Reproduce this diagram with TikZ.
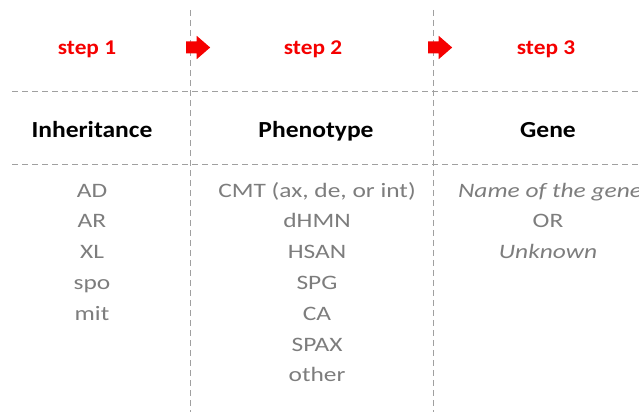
\documentclass[tikz,border=0pt]{standalone}
\usepackage{fontspec}
\setmainfont{Carlito}
\newfontfamily\itemfont[FakeStretch=1.24]{Carlito}
\newfontfamily\headfont[FakeStretch=1.11]{Carlito}
\usepackage{tikz}
\usetikzlibrary{positioning,shapes.arrows}
\definecolor{stepred}{RGB}{245,0,0}
\definecolor{itemgray}{RGB}{125,125,125}
\definecolor{linegray}{RGB}{160,160,160}
\newcommand*{\itm}[1]{\itemfont\fontsize{20.5}{24}\selectfont #1}

\begin{document}
\begin{tikzpicture}[x=1pt,y=-1pt,
  steplabel/.style={anchor=base,text=stepred,
    font=\headfont\fontsize{21}{25}\selectfont\bfseries},
  colhead/.style={anchor=base,font=\headfont\fontsize{23}{27}\selectfont\bfseries},
  item/.style={anchor=base,text=itemgray,font=\itm{},inner sep=0pt},
  gridline/.style={linegray,dash pattern=on 6pt off 4pt,line width=1pt},
  steparrow/.style={single arrow,fill=stepred,draw=none,inner sep=0pt,
    text height=5.8pt,text depth=5.8pt,minimum height=24pt,
    single arrow head extend=5.7pt,single arrow tip angle=82}]
\useasboundingbox (0,0) rectangle (639,412);
\clip (0,0) rectangle (639,412);
% Column borders and row borders
\coordinate (v1top) at (190,10);
\coordinate (v1bot) at (190,412);
\coordinate (v2top) at (433,10);
\coordinate (v2bot) at (433,412);
\coordinate (h1l) at (12,91);
\coordinate (h1r) at (639,91);
\coordinate (h2l) at (12,164);
\coordinate (h2r) at (639,164);
\draw [gridline] (v1top) -- (v1bot);
\draw [gridline] (v2top) -- (v2bot);
\draw [gridline] (h1l) -- (h1r);
\draw [gridline] (h2l) -- (h2r);
% Steps with the red block arrows between them
\node [steplabel] (step1) at (87,55) {step 1};
\node [steplabel] (step2) at (313,55) {step 2};
\node [steplabel] (step3) at (546,55) {step 3};
\node [steparrow] (arr1) at (194.7,47.5) {};
\node [steparrow] (arr2) at (436.7,47.5) {};
% Column heads
\node [colhead] (inh) at (92,137) {Inheritance};
\node [colhead] (phen) at (316,137) {Phenotype};
\node [colhead] (gene) at (548,137) {Gene};
% Inheritance column
\node [item] (ad) at (92,197) {AD};
\node [item] (ar) at (92,227.8) {AR};
\node [item] (xl) at (92,258.6) {XL};
\node [item] (spo) at (92,289.4) {spo};
\node [item] (mit) at (92,320.2) {mit};
% Phenotype column
\node [item] (cmt) at (317,197) {CMT (ax, de, or int)};
\node [item] (dhmn) at (317,227.8) {dHMN};
\node [item] (hsan) at (317,258.6) {HSAN};
\node [item] (spg) at (317,289.4) {SPG};
\node [item] (ca) at (317,320.2) {CA};
\node [item] (spax) at (317,351) {SPAX};
\node [item] (other) at (317,381.8) {other};
% Gene column
\node [item,font=\itm{}\itshape] (gname) at (550,197) {Name of the gene};
\node [item] (or) at (548,227.8) {OR};
\node [item,font=\itm{}\itshape] (unk) at (548,258.6) {Unknown};
\end{tikzpicture}
\end{document}
